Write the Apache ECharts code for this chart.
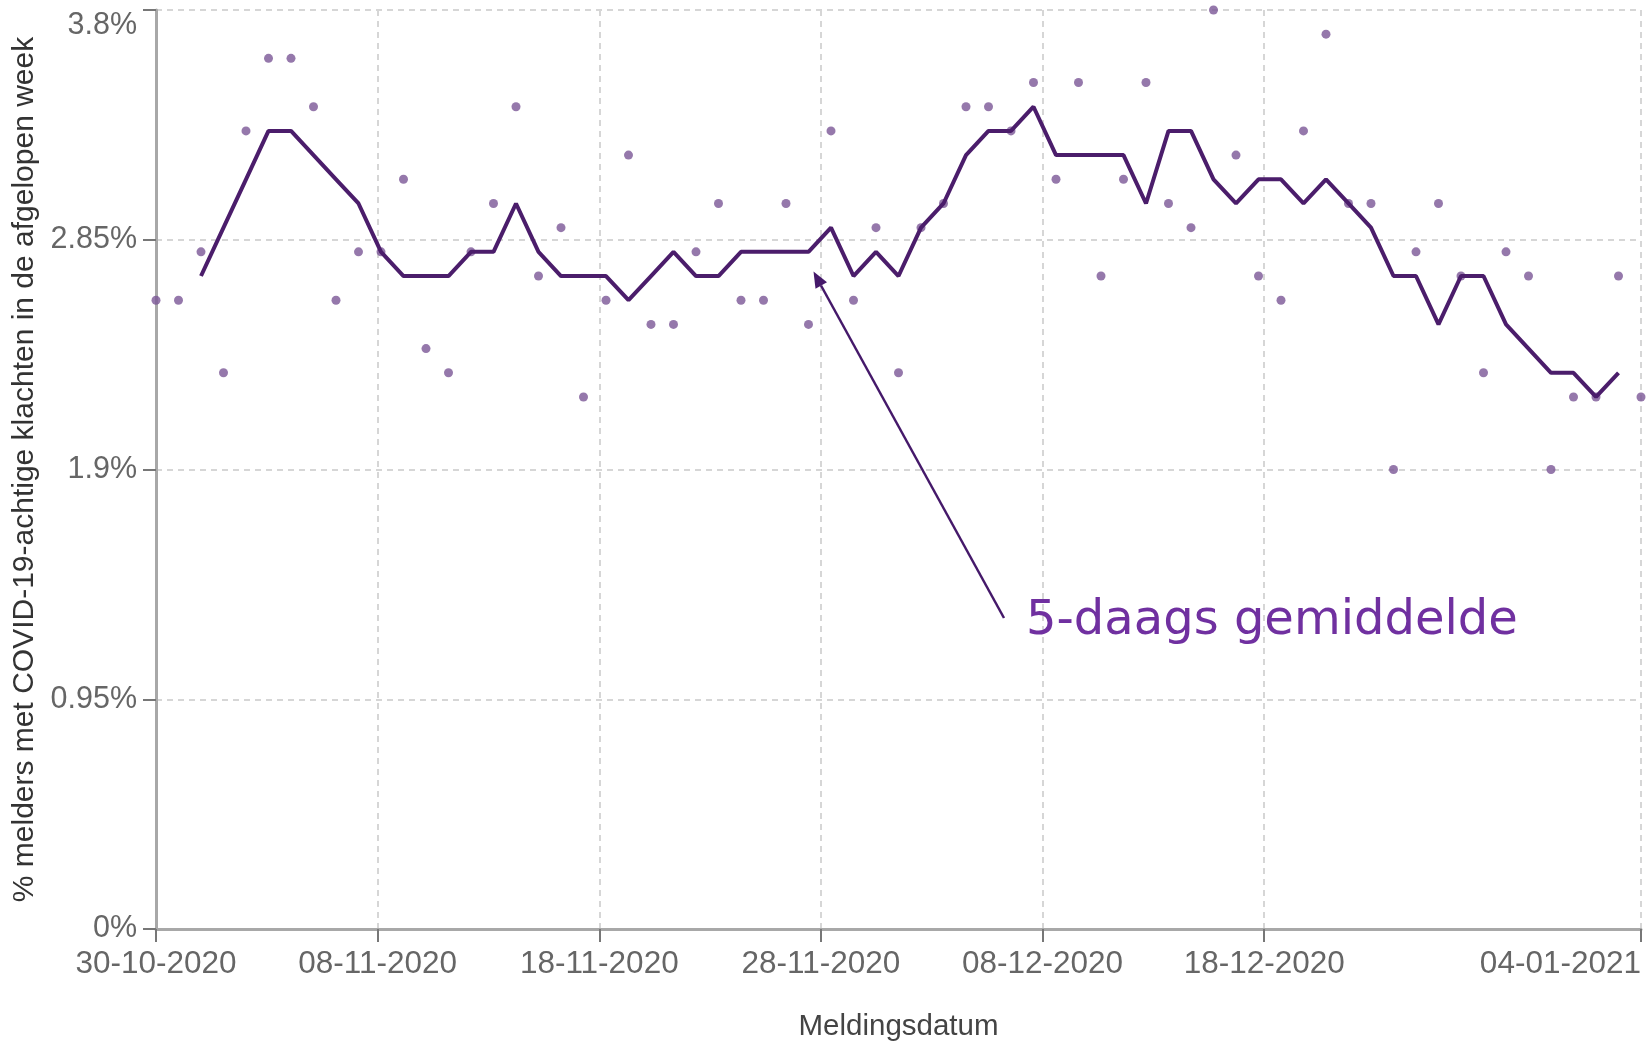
<!DOCTYPE html>
<html>
<head>
<meta charset="utf-8">
<script src="https://cdn.jsdelivr.net/npm/echarts@6/dist/echarts.min.js"></script>
<style>
html,body{margin:0;padding:0;background:#fff;}
#chart{width:1652px;height:1043px;}
</style>
</head>
<body>
<div id="chart"></div>
<script>
// ---- data ----
const dates = [
 '30-10-2020','31-10-2020',
 '01-11-2020','02-11-2020','03-11-2020','04-11-2020','05-11-2020','06-11-2020','07-11-2020','08-11-2020','09-11-2020','10-11-2020',
 '11-11-2020','12-11-2020','13-11-2020','14-11-2020','15-11-2020','16-11-2020','17-11-2020','18-11-2020','19-11-2020','20-11-2020',
 '21-11-2020','22-11-2020','23-11-2020','24-11-2020','25-11-2020','26-11-2020','27-11-2020','28-11-2020','29-11-2020','30-11-2020',
 '01-12-2020','02-12-2020','03-12-2020','04-12-2020','05-12-2020','06-12-2020','07-12-2020','08-12-2020','09-12-2020','10-12-2020',
 '11-12-2020','12-12-2020','13-12-2020','14-12-2020','15-12-2020','16-12-2020','17-12-2020','18-12-2020','19-12-2020','20-12-2020',
 '21-12-2020','22-12-2020','23-12-2020','24-12-2020','25-12-2020','26-12-2020','27-12-2020','28-12-2020','29-12-2020','30-12-2020',
 '31-12-2020','01-01-2021','02-01-2021','03-01-2021','04-01-2021'
];
const dailyValues = [
 2.6,2.6,2.8,2.3,3.3,3.6,3.6,3.4,2.6,2.8,
 2.8,3.1,2.4,2.3,2.8,3.0,3.4,2.7,2.9,2.2,
 2.6,3.2,2.5,2.5,2.8,3.0,2.6,2.6,3.0,2.5,
 3.3,2.6,2.9,2.3,2.9,3.0,3.4,3.4,3.3,3.5,
 3.1,3.5,2.7,3.1,3.5,3.0,2.9,3.8,3.2,2.7,
 2.6,3.3,3.7,3.0,3.0,1.9,2.8,3.0,2.7,2.3,
 2.8,2.7,1.9,2.2,2.2,2.7,2.2
];
const movingAverage = [
 null,null,2.7,2.9,3.1,3.3,3.3,3.2,3.1,3.0,
 2.8,2.7,2.7,2.7,2.8,2.8,3.0,2.8,2.7,2.7,
 2.7,2.6,2.7,2.8,2.7,2.7,2.8,2.8,2.8,2.8,
 2.9,2.7,2.8,2.7,2.9,3.0,3.2,3.3,3.3,3.4,
 3.2,3.2,3.2,3.2,3.0,3.3,3.3,3.1,3.0,3.1,
 3.1,3.0,3.1,3.0,2.9,2.7,2.7,2.5,2.7,2.7,
 2.5,2.4,2.3,2.3,2.2,2.3,null
];
const tickDates = ['29-10-2020','08-11-2020','18-11-2020','28-11-2020','08-12-2020','18-12-2020','04-01-2021'];
const tickLabels = ['30-10-2020','08-11-2020','18-11-2020','28-11-2020','08-12-2020','18-12-2020','04-01-2021'];
const yTicks = [0, 0.95, 1.9, 2.85, 3.8];
const yTitle = '% melders met COVID-19-achtige klachten in de afgelopen week';
const xTitle = 'Meldingsdatum';
const annotationText = '5-daags gemiddelde';

// ---- helpers ----
function parseDate(s){ const p = s.split('-'); return Date.UTC(+p[2], +p[1]-1, +p[0]); }
const DAY = 86400000;
const t0 = parseDate(tickDates[0]);
const tickDays = tickDates.map(d => Math.round((parseDate(d) - t0) / DAY));

const labelFont = '"Liberation Sans", Arial, sans-serif';
const gridLine = { show: true, lineStyle: { color: '#d6d6d6', width: 2, type: [6, 5] } };

const chart = echarts.init(document.getElementById('chart'), null, { renderer: 'canvas' });
chart.setOption({
  animation: false,
  backgroundColor: '#ffffff',
  grid: { left: 156, right: 11, top: 10, bottom: 114, containLabel: false, outerBoundsMode: 'none' },
  xAxis: [
    {
      type: 'category', data: dates, boundaryGap: false, position: 'top', show: false
    },
    {
      type: 'value', min: tickDays[0], max: tickDays[tickDays.length - 1], position: 'bottom',
      axisLine: { show: true, onZero: false, lineStyle: { color: '#a8a8a8', width: 3 } },
      axisTick: { show: true, length: 13, customValues: tickDays, lineStyle: { color: '#777', width: 2 } },
      axisLabel: {
        show: true, customValues: tickDays, margin: 19, fontSize: 31.5, fontFamily: labelFont, color: '#666',
        alignMaxLabel: 'right',
        formatter: function (v) { const k = tickDays.indexOf(Math.round(v)); return k >= 0 ? tickLabels[k] : ''; }
      },
      splitLine: gridLine,
      name: xTitle, nameLocation: 'middle', nameGap: 83,
      nameTextStyle: { fontSize: 29.5, fontFamily: labelFont, color: '#444' }
    }
  ],
  yAxis: {
    type: 'value', min: yTicks[0], max: yTicks[yTicks.length - 1], interval: yTicks[1] - yTicks[0],
    axisLine: { show: true, lineStyle: { color: '#a8a8a8', width: 3 } },
    axisTick: { show: true, length: 13, lineStyle: { color: '#777', width: 2 } },
    axisLabel: {
      margin: 19, fontSize: 30.5, fontFamily: labelFont, color: '#666',
      verticalAlignMaxLabel: 'top',
      formatter: function (v) { return (+v.toFixed(2)) + '%'; }
    },
    splitLine: gridLine,
    name: yTitle, nameLocation: 'middle', nameGap: 111, nameRotate: 90,
    nameTextStyle: { fontSize: 30, fontFamily: labelFont, color: '#333' }
  },
  series: [
    {
      type: 'scatter', xAxisIndex: 0, data: dailyValues, symbol: 'circle', symbolSize: 9,
      itemStyle: { color: '#7a5696' }, z: 3
    },
    {
      type: 'line', xAxisIndex: 0, data: movingAverage, showSymbol: false, symbol: 'none',
      lineStyle: { color: '#4b1d6b', width: 4 }, z: 4
    }
  ],
  graphic: [
    { type: 'line', shape: { x1: 1004, y1: 618, x2: 821, y2: 285.5 }, style: { stroke: '#45196a', lineWidth: 2.5 }, z: 10 },
    { type: 'polygon', shape: { points: [[813.5, 271.5], [827, 282.3], [815.5, 288.7]] }, style: { fill: '#45196a' }, z: 10 },
    { type: 'text', x: 1026, y: 622, style: { text: annotationText, font: '48px "DejaVu Sans", Verdana, sans-serif', fill: '#7030a0', verticalAlign: 'middle', align: 'left' }, z: 10 }
  ]
});
</script>
</body>
</html>
